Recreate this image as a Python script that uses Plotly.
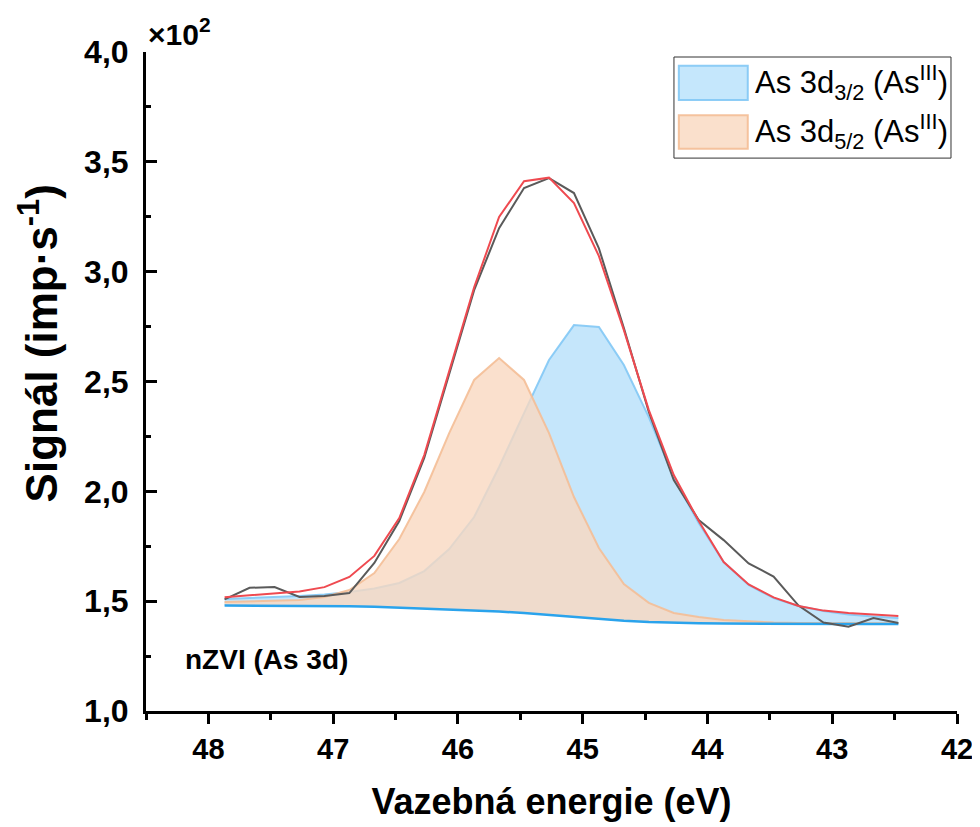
import plotly.graph_objects as go

# Binding energy (eV), 0.2 eV step
energy = [47.87 - 0.2 * i for i in range(28)]

# Signal values in units of 10^2 imp/s
raw_signal = [1.508, 1.561, 1.564, 1.519, 1.523, 1.537, 1.674, 1.865, 2.152, 2.538,
              2.916, 3.198, 3.381, 3.426, 3.358, 3.106, 2.743, 2.361, 2.051, 1.869,
              1.778, 1.672, 1.612, 1.480, 1.403, 1.384, 1.423, 1.401]
fit_envelope = [1.518, 1.526, 1.535, 1.544, 1.564, 1.610, 1.706, 1.878, 2.165, 2.552,
                2.929, 3.249, 3.412, 3.428, 3.312, 3.071, 2.734, 2.370, 2.074, 1.865,
                1.678, 1.576, 1.517, 1.478, 1.457, 1.446, 1.438, 1.432]
background = [1.480, 1.480, 1.480, 1.479, 1.478, 1.477, 1.475, 1.471, 1.468, 1.464,
              1.459, 1.453, 1.446, 1.437, 1.428, 1.419, 1.411, 1.405, 1.401, 1.399,
              1.398, 1.397, 1.397, 1.397, 1.396, 1.396, 1.396, 1.396]
as3d32 = [1.510, 1.514, 1.519, 1.523, 1.530, 1.542, 1.558, 1.583, 1.637, 1.737,
          1.883, 2.111, 2.356, 2.598, 2.757, 2.748, 2.575, 2.338, 2.061, 1.856,
          1.678, 1.574, 1.514, 1.478, 1.455, 1.439, 1.430, 1.423]
as3d52 = [1.496, 1.498, 1.501, 1.505, 1.519, 1.551, 1.628, 1.783, 1.997, 2.265,
          2.507, 2.607, 2.507, 2.265, 1.974, 1.742, 1.578, 1.492, 1.446, 1.428,
          1.414, 1.407, 1.403, 1.401, 1.400, 1.400, 1.400, 1.400]

x_ticks = [48, 47, 46, 45, 44, 43, 42]
y_ticks = [1.0, 1.5, 2.0, 2.5, 3.0, 3.5, 4.0]

FONT = "Arial, Liberation Sans, sans-serif"
BLUE_FILL = "rgba(140,206,248,0.5)"
BLUE_EDGE = "rgba(130,200,245,0.9)"
ORANGE_FILL = "rgba(249,216,192,0.8)"
ORANGE_EDGE = "rgba(244,190,150,0.9)"

fig = go.Figure()

# Blue component (3d3/2) filled down to the background
fig.add_trace(go.Scatter(x=energy, y=background, mode="lines",
                         line=dict(width=0), showlegend=False, hoverinfo="skip"))
fig.add_trace(go.Scatter(x=energy, y=as3d32, mode="lines", fill="tonexty",
                         fillcolor=BLUE_FILL, line=dict(color=BLUE_EDGE, width=2),
                         name="As 3d<sub>3/2</sub> (As<sup>III</sup>)", showlegend=False))
# Orange component (3d5/2)
fig.add_trace(go.Scatter(x=energy, y=background, mode="lines",
                         line=dict(width=0), showlegend=False, hoverinfo="skip"))
fig.add_trace(go.Scatter(x=energy, y=as3d52, mode="lines", fill="tonexty",
                         fillcolor=ORANGE_FILL, line=dict(color=ORANGE_EDGE, width=2),
                         name="As 3d<sub>5/2</sub> (As<sup>III</sup>)", showlegend=False))
# Background line
fig.add_trace(go.Scatter(x=energy, y=background, mode="lines",
                         line=dict(color="#2AA3EC", width=2.5), showlegend=False))
# Raw data
fig.add_trace(go.Scatter(x=energy, y=raw_signal, mode="lines",
                         line=dict(color="#5a5a5a", width=2), showlegend=False))
# Fit envelope
fig.add_trace(go.Scatter(x=energy, y=fit_envelope, mode="lines",
                         line=dict(color="#EF4A50", width=2), showlegend=False))

# Custom legend (paper coordinates)
shapes = [
    dict(type="rect", xref="paper", yref="paper", x0=0.651, x1=0.9926, y0=0.839, y1=0.9924,
         line=dict(color="#333333", width=1), fillcolor="white", layer="above"),
    dict(type="rect", xref="paper", yref="paper", x0=0.657, x1=0.742, y0=0.927, y1=0.979,
         line=dict(color=BLUE_EDGE, width=2), fillcolor="rgb(197,231,252)", layer="above"),
    dict(type="rect", xref="paper", yref="paper", x0=0.657, x1=0.742, y0=0.853, y1=0.904,
         line=dict(color=ORANGE_EDGE, width=2), fillcolor="rgb(250,224,204)", layer="above"),
]
annotations = [
    dict(text="As 3d<sub>3/2</sub> (As<sup>III</sup>)", xref="paper", yref="paper",
         x=0.749, y=0.953, xanchor="left", yanchor="middle", showarrow=False,
         font=dict(family=FONT, size=31, color="black")),
    dict(text="As 3d<sub>5/2</sub> (As<sup>III</sup>)", xref="paper", yref="paper",
         x=0.749, y=0.879, xanchor="left", yanchor="middle", showarrow=False,
         font=dict(family=FONT, size=31, color="black")),
    dict(text="<b>×10<sup>2</sup></b>", xref="paper", yref="paper",
         x=0.0, y=1.031, xanchor="left", yanchor="middle", showarrow=False,
         font=dict(family=FONT, size=30, color="black")),
    dict(text="<b>nZVI (As 3d)</b>", xref="paper", yref="paper",
         x=0.0456, y=0.0774, xanchor="left", yanchor="middle", showarrow=False,
         font=dict(family=FONT, size=28, color="black")),
    # Y-axis title
    dict(text="<b>Signál (imp·s<sup>-1</sup>)</b>", xref="paper", yref="paper",
         x=-0.133, y=0.558, xanchor="center", yanchor="middle", textangle=-90,
         showarrow=False, font=dict(family=FONT, size=44, color="black")),
]

fig.update_layout(
    width=980, height=827,
    margin=dict(l=138, r=31, t=44, b=124),
    paper_bgcolor="white", plot_bgcolor="white",
    separators=",.",
    font=dict(family=FONT, color="black"),
    shapes=shapes, annotations=annotations,
    showlegend=False,
    xaxis=dict(
        range=[48.5, 42], tickvals=x_ticks, ticktext=[str(v) for v in x_ticks],
        showline=True, linecolor="black", linewidth=3, showgrid=False, zeroline=False,
        ticks="outside", ticklen=10, tickwidth=2.5, tickcolor="black",
        minor=dict(ticks="outside", ticklen=6, tickwidth=2.5, tickcolor="black", dtick=0.5, tick0=42),
        tickfont=dict(family=FONT, size=29, weight="bold"),
        title=dict(text="<b>Vazebná energie (eV)</b>", font=dict(family=FONT, size=36), standoff=26),
    ),
    yaxis=dict(
        range=[1.0, 4.0], tickvals=y_ticks, tickformat=".1f",
        showline=True, linecolor="black", linewidth=3, showgrid=False, zeroline=False,
        ticks="inside", ticklen=11, tickwidth=2.5, tickcolor="black",
        minor=dict(ticks="inside", ticklen=5, tickwidth=2.5, tickcolor="black", dtick=0.25, tick0=1.0),
        tickfont=dict(family=FONT, size=32, weight="bold"),
        ticklabelstandoff=8,
    ),
)

fig.write_html("out.html")
